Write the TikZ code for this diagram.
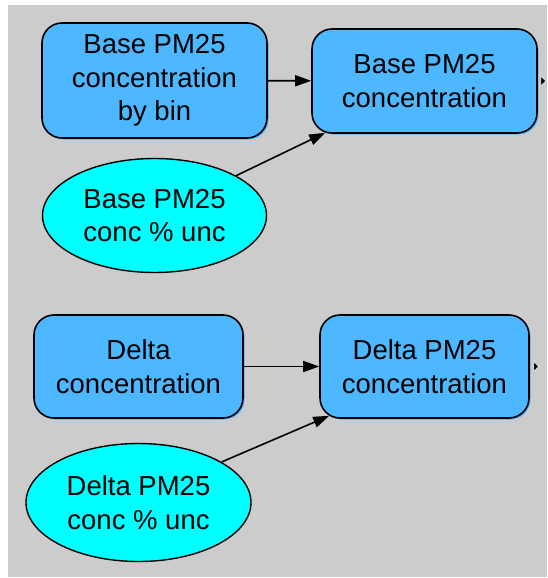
\documentclass[tikz,border=0pt]{standalone}
\usepackage{fontspec}
\setmainfont{Liberation Sans}
\usetikzlibrary{shapes.geometric,arrows.meta}
\definecolor{bggray}{RGB}{204,204,204}
\definecolor{boxblue}{RGB}{77,184,255}
\definecolor{ellcyan}{RGB}{0,255,255}
\tikzset{
  boxnode/.style={draw=black, line width=1.6pt, fill=boxblue, rounded corners=20pt,
    inner sep=0pt, align=center,
    preaction={fill=boxblue, transform canvas={shift={(1.5pt,-1.5pt)}}},
    font=\fontsize{27.5}{33.5}\selectfont},
  ellnode/.style={draw=black, line width=1.4pt, fill=ellcyan, ellipse, inner sep=0pt,
    align=center, font=\fontsize{27.5}{33.5}\selectfont},
  conn/.style={line width=1.6pt, -{Triangle[length=16pt,width=11pt]}},
  outmark/.style={fill=black, draw=white, line width=0.6pt}
}
\begin{document}
\begin{tikzpicture}[x=1pt,y=-1pt]
\useasboundingbox (0,0) rectangle (547,578);
\fill[bggray] (8,5) rectangle (547,577);
% top group
\node[boxnode, minimum width=225pt, minimum height=115pt] (A) at (154.5,80.5)
  {Base PM25\\concentration\\by bin};
\node[boxnode, minimum width=225pt, minimum height=104pt] (B) at (424.5,81)
  {Base PM25\\concentration};
\node[ellnode, minimum width=224pt, minimum height=114pt] (C) at (154.5,215.5)
  {Base PM25\\conc \% unc};
% bottom group
\node[boxnode, minimum width=209pt, minimum height=103pt] (D) at (138.5,366.5)
  {Delta\\concentration};
\node[boxnode, minimum width=209pt, minimum height=103pt] (E) at (424.5,366.5)
  {Delta PM25\\concentration};
\node[ellnode, minimum width=225pt, minimum height=118pt] (F) at (138.5,502.5)
  {Delta PM25\\conc \% unc};
% connectors
\draw[conn] (A) -- (B);
\draw[conn] (C.26) -- ([xshift=14pt,yshift=1pt]B.south west);
\draw[conn] (D) -- (E);
\draw[conn] (F.26) -- ([xshift=10pt,yshift=3pt]E.south west);
% output markers
\coordinate (bo) at ([xshift=3pt]B.east);
\coordinate (eo) at ([xshift=4pt]E.east);
\draw[outmark] ([yshift=5pt]bo) -- ([yshift=-5pt]bo) -- ([xshift=5pt]bo) -- cycle;
\draw[outmark] ([yshift=5pt]eo) -- ([yshift=-5pt]eo) -- ([xshift=5pt]eo) -- cycle;
\end{tikzpicture}
\end{document}
